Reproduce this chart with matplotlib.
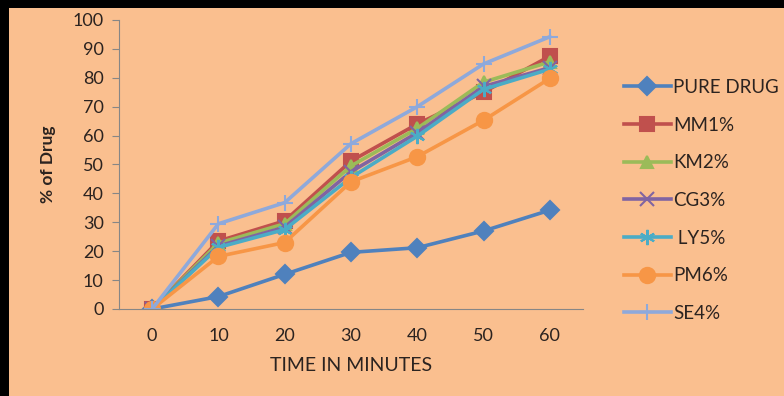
import matplotlib.pyplot as plt
from matplotlib.patches import Rectangle

# dissolution data: % drug released vs time
time_min = [0, 10, 20, 30, 40, 50, 60]
pure_drug = [0, 4.3, 12, 19.6, 21.2, 27, 34.2]
mm1 = [0, 23.5, 30.5, 51.2, 64, 75, 87.5]
km2 = [0, 22.8, 29.5, 49.5, 62.5, 78.5, 85.5]
cg3 = [0, 21.8, 28.3, 47.5, 61, 77, 83.5]
ly5 = [0, 21.3, 27.5, 45.5, 59.8, 76, 83]
pm6 = [0, 18.2, 23, 44, 52.7, 65.3, 79.8]
se4 = [0, 29.5, 36.8, 57.2, 70, 84.8, 94.2]

labels = ['PURE DRUG', 'MM1%', 'KM2%', 'CG3%', ' LY5%', 'PM6%', 'SE4%']
series = [pure_drug, mm1, km2, cg3, ly5, pm6, se4]
colors = ['#4F81BD', '#C0504D', '#9BBB59', '#8064A2', '#4BACC6', '#F79646', '#8EA9DB']
markers = ['D', 's', '^', 'x', (6, 2, 0), 'o', '+']
msizes = [9, 10, 9, 10, 11, 11, 12]

bg = '#FABF8F'
txt = '#2b2320'
plt.rcParams['font.family'] = ['Lato', 'DejaVu Sans']

fig = plt.figure(figsize=(7.84, 3.96), dpi=100)
fig.patch.set_facecolor(bg)
ax = fig.add_axes([0.1518, 0.2197, 0.5918, 0.7298])
ax.set_facecolor(bg)

xs = range(len(time_min))
for vals, lab, c, m, ms in zip(series, labels, colors, markers, msizes):
    ax.plot(xs, vals, color=c, lw=2.6, marker=m, markersize=ms,
            markeredgewidth=1.5, markeredgecolor=c, label=lab)

ax.set_xlim(-0.5, len(time_min) - 0.5)
ax.set_ylim(0, 100)
ax.set_yticks(range(0, 101, 10))
ax.set_xticks(list(xs))
ax.set_xticklabels([str(t) for t in time_min])
ax.tick_params(axis='x', length=0, pad=14, labelsize=13, colors=txt)
ax.tick_params(axis='y', length=5, width=0.8, color='#868686', pad=6,
               labelsize=13, labelcolor=txt)
for s in ['top', 'right']:
    ax.spines[s].set_visible(False)
for s in ['left', 'bottom']:
    ax.spines[s].set_color('#868686')
    ax.spines[s].set_linewidth(0.8)

ax.set_xlabel('TIME IN MINUTES', fontsize=14, color=txt, labelpad=9)
ax.set_ylabel('% of Drug', fontsize=12.5, fontweight='bold', color=txt, labelpad=12)

leg = fig.legend(loc='center left', bbox_to_anchor=(0.774, 0.494), frameon=False,
                 fontsize=13.5, handlelength=2.5, handletextpad=0.15, labelspacing=1.1,
                 labelcolor=txt)

# black frame edges on the left and top
fig.add_artist(Rectangle((0, 0), 9 / 784, 1, transform=fig.transFigure,
                         color='black', lw=0))
fig.add_artist(Rectangle((0, 1 - 8 / 396), 1, 8 / 396, transform=fig.transFigure,
                         color='black', lw=0))

fig.savefig('out.png', dpi=100, facecolor=bg)
